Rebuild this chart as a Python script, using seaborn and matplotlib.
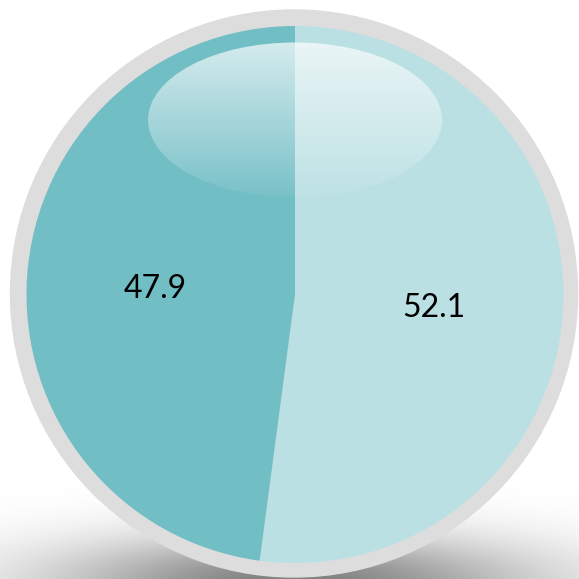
import numpy as np
import seaborn as sns
import matplotlib.pyplot as plt
from matplotlib.patches import Circle, Ellipse

sns.set_style("white")
plt.rcParams["font.family"] = ["Lato", "DejaVu Sans"]

# Slice values (clockwise from 12 o'clock)
values = [52.1, 47.9]
labels = ["52.1", "47.9"]
colors = sns.color_palette(["#BAE0E3", "#72BEC5"])

fig = plt.figure(figsize = (5.79, 5.79), dpi = 100)
ax = fig.add_axes([0, 0, 1, 1])

cx, cy, r = 295, 284.5, 268.5

# Soft shadow under the disc
xx, yy = np.meshgrid(np.linspace(0, 579, 300), np.linspace(0, 150, 100))
d = ((xx - 295) / 300) ** 2 + ((yy + 5) / 60) ** 2
shadow = np.zeros(xx.shape + (4,))
shadow[..., 3] = 0.5 * np.exp(-d * 1.5)
ax.imshow(shadow, extent = (0, 579, 0, 150), origin = "lower",
          zorder = 0, interpolation = "bilinear", aspect = "auto")

# Gray rim
ax.add_patch(Circle((294, 285.5), 283.5, color = "#DDDDDD", zorder = 1))

# The pie itself
wedges, texts = ax.pie(values, labels = labels, colors = colors,
                       center = (cx, cy), radius = r, startangle = 90,
                       counterclock = False, labeldistance = 0.52,
                       textprops = dict(fontsize = 23, color = "black",
                                        ha = "center", va = "center"),
                       wedgeprops = dict(linewidth = 0, zorder = 2))
for t in texts:
    t.set_zorder(5)
    t.set_y(t.get_position()[1] - 4)

# Glossy highlight
hx, hy, hw, hh = 295, 459, 294, 155
gy = np.linspace(0, 1, 200)[:, None] * np.ones((1, 2))
gloss = np.ones((200, 2, 4))
gloss[..., 3] = 0.05 + 0.65 * gy
im = ax.imshow(gloss, extent = (hx - hw / 2, hx + hw / 2, hy - hh / 2, hy + hh / 2),
               origin = "lower", zorder = 3, interpolation = "bilinear", aspect = "auto")
clip = Ellipse((hx, hy), hw, hh, transform = ax.transData, facecolor = "none", edgecolor = "none")
ax.add_patch(clip)
im.set_clip_path(clip)

ax.set_xlim(0, 579)
ax.set_ylim(0, 579)
ax.set_aspect("equal")
ax.axis("off")

fig.savefig("out.png", dpi = 100)
